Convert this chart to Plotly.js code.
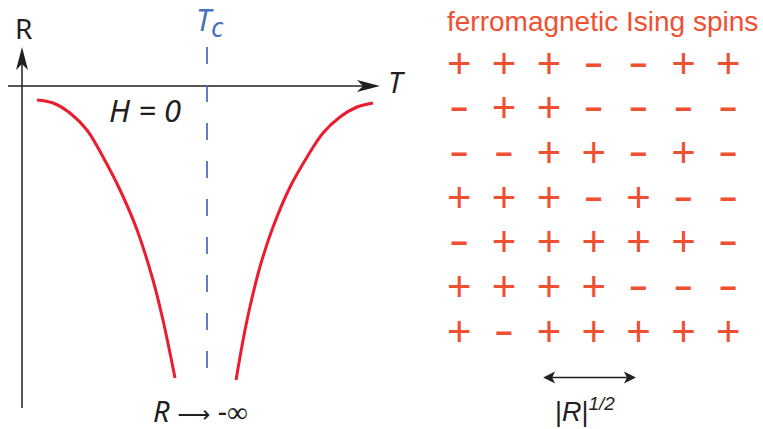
<!DOCTYPE html>
<html><head><meta charset="utf-8">
<script src="https://cdn.plot.ly/plotly-3.0.1.min.js"></script>
<style>html,body{margin:0;padding:0;background:#fff}</style>
</head><body><div id="chart" style="width:763px;height:429px"></div>
<script>
// ---- Left panel: schematic R(T) at H = 0 (T in units of Tc) ----
const Tc = 1.0;
const tBelow = [0.081, 0.168, 0.259, 0.351, 0.438, 0.530, 0.622, 0.708, 0.762, 0.800, 0.827];
const rBelow = [-0.14, -0.17, -0.27, -0.44, -0.71, -1.04, -1.44, -1.94, -2.34, -2.67, -2.92];
const tAbove = [1.157, 1.195, 1.232, 1.286, 1.357, 1.449, 1.541, 1.627, 1.719, 1.811, 1.897];
const rAbove = [-2.94, -2.54, -2.21, -1.81, -1.41, -1.01, -0.71, -0.47, -0.31, -0.21, -0.17];

// ---- Right panel: ferromagnetic Ising spin lattice ----
const spinCols = [1, 2, 3, 4, 5, 6, 7];
const spinRows = [1, 2, 3, 4, 5, 6, 7];
const spinGrid = [
  ["+", "+", "+", "-", "-", "+", "+"],
  ["-", "+", "+", "-", "-", "-", "-"],
  ["-", "-", "+", "+", "-", "+", "-"],
  ["+", "+", "+", "-", "+", "-", "-"],
  ["-", "+", "+", "+", "+", "+", "-"],
  ["+", "+", "+", "+", "-", "-", "-"],
  ["+", "-", "+", "+", "+", "+", "+"]
];
const corrLenSpan = [2.87, 4.94];   // correlation length |R|^(1/2), lattice units

const RED = '#ec1c2e', ORANGE = '#f05032', BLUE = '#4a72b8', INK = '#231f20';
const W = 763, H = 429;
const px = v => v / W, py = v => 1 - v / H;

const plusX = [], plusY = [], minusX = [], minusY = [];
spinRows.forEach((r, i) => spinCols.forEach((c, j) => {
  if (spinGrid[i][j] === '+') { plusX.push(c); plusY.push(r); }
  else { minusX.push(c); minusY.push(r); }
}));

const traces = [
  {x: tBelow, y: rBelow, mode: 'lines', line: {color: RED, width: 3, shape: 'spline'}, xaxis: 'x', yaxis: 'y', hoverinfo: 'skip'},
  {x: tAbove, y: rAbove, mode: 'lines', line: {color: RED, width: 3, shape: 'spline'}, xaxis: 'x', yaxis: 'y', hoverinfo: 'skip'},
  {x: plusX, y: plusY, mode: 'text', text: plusX.map(() => '+'), textposition: 'middle center',
   textfont: {family: 'Liberation Sans', size: 42, color: ORANGE}, xaxis: 'x2', yaxis: 'y2', hoverinfo: 'skip'},
  {x: minusX, y: minusY, mode: 'text', text: minusX.map(() => '\u2212'), textposition: 'middle center',
   textfont: {family: 'Liberation Sans', size: 30, color: ORANGE, weight: 'bold'}, xaxis: 'x2', yaxis: 'y2', hoverinfo: 'skip'}
];

// axis geometry (left panel)
const tMin = -22 / 185, tMax = (W - 22) / 185;
const rMin = -(H - 86) / 100, rMax = 86 / 100;
const head = 'M0,0 L-23,-6 L-17,0 L-23,6 Z';
const headUp = 'M0,0 L-6,-23 L0,-17 L6,-23 Z';
const small = 'M0,0 L-12,-6 L-9,0 L-12,6 Z';
const smallL = 'M0,0 L12,-6 L9,0 L12,6 Z';

const shapes = [
  // T axis
  {type: 'line', xref: 'x', yref: 'y', x0: -0.0757, x1: 1.90, y0: 0, y1: 0, line: {color: INK, width: 1.5}},
  {type: 'path', xref: 'x', yref: 'y', xsizemode: 'pixel', ysizemode: 'pixel', xanchor: 1.935, yanchor: 0, path: head, fillcolor: INK, line: {width: 0}},
  // R axis
  {type: 'line', xref: 'x', yref: 'y', x0: 0, x1: 0, y0: -3.22, y1: 0.22, line: {color: INK, width: 1.5}},
  {type: 'path', xref: 'x', yref: 'y', xsizemode: 'pixel', ysizemode: 'pixel', xanchor: 0, yanchor: 0.39, path: headUp, fillcolor: INK, line: {width: 0}},
  // Tc dashed line
  {type: 'line', xref: 'x', yref: 'y', x0: Tc, x1: Tc, y0: 0.39, y1: -3.02, line: {color: BLUE, width: 1.8, dash: '17px,21px'}},
  // correlation length double arrow
  {type: 'line', xref: 'x2', yref: 'paper', x0: corrLenSpan[0] + 0.15, x1: corrLenSpan[1] - 0.15, y0: py(377.5), y1: py(377.5), line: {color: INK, width: 1.6}},
  {type: 'path', xref: 'x2', yref: 'paper', xsizemode: 'pixel', ysizemode: 'pixel', xanchor: corrLenSpan[1], yanchor: py(377.5), path: small, fillcolor: INK, line: {width: 0}},
  {type: 'path', xref: 'x2', yref: 'paper', xsizemode: 'pixel', ysizemode: 'pixel', xanchor: corrLenSpan[0], yanchor: py(377.5), path: smallL, fillcolor: INK, line: {width: 0}}
];

const LF = 'Noto Sans';
const ann = (x, y, text, size, color, family) => ({xref: 'paper', yref: 'paper', x: px(x), y: py(y), text, showarrow: false,
  xanchor: 'center', yanchor: 'middle', font: {family: family || LF, size, color}});
const annotations = [
  ann(23, 28, 'R', 28, INK),
  ann(397, 82, '<i>T</i>', 29, INK),
  ann(210, 22, '<i>T<sub><span style="font-size:27px">c</span></sub></i>', 30, BLUE),
  ann(145, 110, '<i>H = 0</i>', 31, INK),
  ann(200, 410, '<i>R</i> <span style="font-family:\'DejaVu Sans\';font-size:23px">\u27F6</span> -\u221E', 29, INK),
  ann(602, 21, 'ferromagnetic Ising spins', 28, ORANGE, 'Liberation Sans'),
  ann(585, 410, '|<i>R</i>|<sup><i>1/2</i></sup>', 27, INK, 'Liberation Sans')
];

const layout = {
  width: W, height: H, margin: {l: 0, r: 0, t: 0, b: 0}, showlegend: false,
  paper_bgcolor: '#fff', plot_bgcolor: 'rgba(0,0,0,0)',
  xaxis: {domain: [0, 1], range: [tMin, tMax], visible: false, fixedrange: true},
  yaxis: {domain: [0, 1], range: [rMin, rMax], visible: false, fixedrange: true},
  xaxis2: {domain: [436.9 / W, 750.7 / W], range: [0.5, 7.5], visible: false, anchor: 'y2', fixedrange: true},
  yaxis2: {domain: [1 - 357.65 / H, 1 - 44.65 / H], range: [7.5, 0.5], visible: false, anchor: 'x2', fixedrange: true},
  shapes, annotations
};
Plotly.newPlot('chart', traces, layout, {displayModeBar: false, staticPlot: true});
</script></body></html>
